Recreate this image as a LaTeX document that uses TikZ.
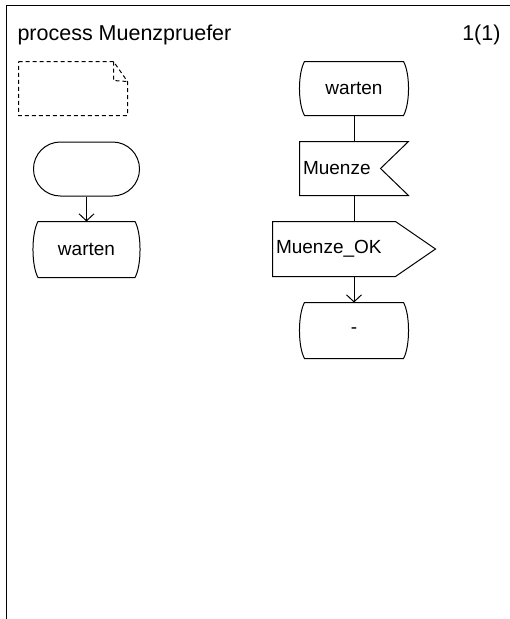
\documentclass[tikz,border=0pt]{standalone}
\usepackage{fontspec}
\setmainfont{Liberation Sans}
\usetikzlibrary{arrows.meta,calc}
\newcommand\sdlstate[1]{%
  \draw ($(#1.north west)+(5,0)$) -- ($(#1.north east)+(-5,0)$)
    .. controls ($(#1.north east)+(1.7,12)$) and ($(#1.south east)+(1.7,-12)$) .. ($(#1.south east)+(-5,0)$)
    -- ($(#1.south west)+(5,0)$)
    .. controls ($(#1.south west)+(-1.7,-12)$) and ($(#1.north west)+(-1.7,12)$) .. cycle;}
\begin{document}
\begin{tikzpicture}[x=1pt,y=-1pt,line width=1pt,
  font=\fontsize{19}{22}\selectfont,
  hdr/.style={inner sep=0pt, font=\fontsize{21.5}{24}\selectfont},
  shp/.style={rectangle, inner sep=0pt, minimum width=#1},
  flow/.style={-{Straight Barb[length=7pt,width=15pt,line width=1pt]}},
  notestyle/.style={dash pattern=on 4pt off 3pt}]
\useasboundingbox (0,0) rectangle (510,619);
\draw (6,619) -- (6,5.5) -- (510,5.5);
\node[hdr, anchor=base west] (title) at (17,40) {process Muenzpruefer};
\node[hdr, anchor=base east] (page) at (501,40) {1(1)};
% text symbol (dashed note)
\node[shp=108pt, minimum height=53pt] (note) at (73,88.5) {};
\draw[notestyle]
  (note.north west) -- ($(note.north east)+(-14,0)$) -- ($(note.north east)+(0,20)$)
  -- (note.south east) -- (note.south west) -- cycle;
\draw[notestyle]
  ($(note.north east)+(-14,0)$) -- ($(note.north east)+(-14,19)$) -- ($(note.north east)+(0,20)$);
% start
\node[shp=106pt, minimum height=54pt, draw, rounded corners=26.9pt] (start) at (86.5,169) {};
\node[shp=106pt, minimum height=55pt] (s1) at (86.5,249.5) {warten};
\sdlstate{s1}
\draw[flow] (start) -- (s1);
% right column
\node[shp=108pt, minimum height=53pt] (s2) at (354,88.5) {warten};
\sdlstate{s2}
\node[shp=108pt, minimum height=53pt, text width=102pt, align=left, inner xsep=3pt] (in) at (354,168.5) {Muenze};
\draw (in.north west) -- (in.north east) -- ($(in.east)+(-28,0)$) -- (in.south east) -- (in.south west) -- cycle;
\node[shp=162pt, minimum height=54pt, text width=156pt, align=left, inner xsep=3pt] (out) at (354,249) {Muenze\_OK};
\draw (out.north west) -- ($(out.north east)+(-40,0)$) -- (out.east) -- ($(out.south east)+(-40,0)$) -- (out.south west) -- cycle;
\node[shp=108pt, minimum height=55pt] (s3) at (354,330.5) {-};
\sdlstate{s3}
\draw (s2) -- (in);
\draw (in) -- (out);
\draw[flow] (out) -- (s3);
\end{tikzpicture}
\end{document}
